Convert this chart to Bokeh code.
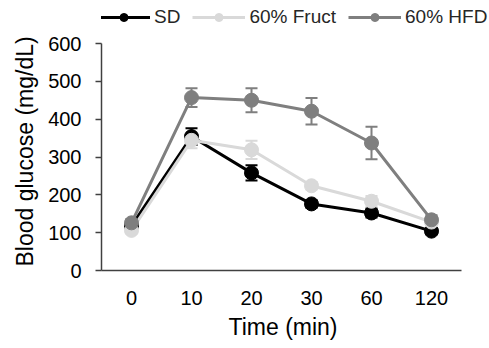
from bokeh.plotting import figure
from bokeh.models import FixedTicker, Legend, LegendItem, Whisker, ColumnDataSource, TeeHead, Range1d, Title
from bokeh.embed import file_html
from bokeh.resources import INLINE

times = ["0", "10", "20", "30", "60", "120"]
sd = [118, 354, 258, 176, 152, 104]
sd_err = [8, 22, 20, 10, 12, 8]
fruct = [106, 344, 319, 224, 183, 128]
fruct_err = [8, 21, 24, 10, 14, 8]
hfd = [126, 457, 450, 421, 337, 134]
hfd_err = [10, 25, 32, 35, 43, 12]
yticks = [0, 100, 200, 300, 400, 500, 600]

FONT = "Liberation Sans"

# category slots: one unit per time point, centred at i + 0.5
xpos = [i + 0.5 for i in range(len(times))]
n = len(times)
ymax = yticks[-1]

p = figure(x_range=Range1d(0, n * 388 / 360), y_range=Range1d(0, ymax * 268 / 227),
           frame_width=388, frame_height=268,
           min_border_left=101, min_border_top=2, min_border_right=0, min_border_bottom=78,
           output_backend="svg", toolbar_location=None)
p.outline_line_color = None
p.xgrid.grid_line_color = None
p.ygrid.grid_line_color = None

series = [("SD", sd, sd_err, "black"), ("60% Fruct", fruct, fruct_err, "#d9d9d9"), ("60% HFD", hfd, hfd_err, "#7f7f7f")]
items = []
for name, vals, errs, col in series:
    src = ColumnDataSource(dict(x=xpos, y=vals, lo=[v - e for v, e in zip(vals, errs)], hi=[v + e for v, e in zip(vals, errs)]))
    w = Whisker(source=src, base="x", upper="hi", lower="lo", line_color=col, line_width=2,
                upper_head=TeeHead(size=12, line_color=col, line_width=2),
                lower_head=TeeHead(size=12, line_color=col, line_width=2), level="underlay")
    p.add_layout(w)
    l = p.line("x", "y", source=src, line_color=col, line_width=3)
    s = p.scatter("x", "y", source=src, size=14, fill_color=col, line_color=col)
    items.append(LegendItem(label=name, renderers=[l, s]))

leg = Legend(items=items, orientation="horizontal", location=(-4, 242), padding=0, margin=0,
             spacing=12, glyph_width=53, glyph_height=20, label_height=20, label_standoff=4,
             label_text_font=FONT, label_text_font_size="19px", label_text_color="#262626",
             border_line_color=None, background_fill_alpha=0)
p.add_layout(leg, "center")

ax_col = "#404040"
for ax in (p.xaxis[0], p.yaxis[0]):
    ax.axis_line_color = ax_col
    ax.axis_line_width = 1.5
    ax.major_label_text_font = FONT
    ax.major_label_text_font_size = "20px"
    ax.major_label_text_color = "black"
    ax.minor_tick_line_color = None

p.yaxis.ticker = FixedTicker(ticks=yticks)
p.yaxis.bounds = (0, ymax)
p.yaxis.major_tick_out = 6
p.yaxis.major_tick_in = 0
p.yaxis.major_tick_line_color = ax_col
p.yaxis.major_tick_line_width = 1.5
p.yaxis.major_label_standoff = 14

p.xaxis.ticker = FixedTicker(ticks=xpos)
p.xaxis.major_label_overrides = {x: t for x, t in zip(xpos, times)}
p.xaxis.bounds = (0, n)
p.xaxis.major_tick_line_color = None
p.xaxis.major_tick_out = 0
p.xaxis.major_label_standoff = 20

# axis titles, placed along the axis extent (not the legend-extended frame)
ytitle = Title(text="Blood glucose (mg/dL)", align="left", offset=4, standoff=16,
               text_font=FONT, text_font_size="23px", text_font_style="normal", text_color="black")
p.add_layout(ytitle, "left")
xtitle = Title(text="Time (min)", align="left", offset=127, standoff=8,
               text_font=FONT, text_font_size="23px", text_font_style="normal", text_color="black")
p.add_layout(xtitle, "below")

open("out.html", "w").write(file_html(p, INLINE))
